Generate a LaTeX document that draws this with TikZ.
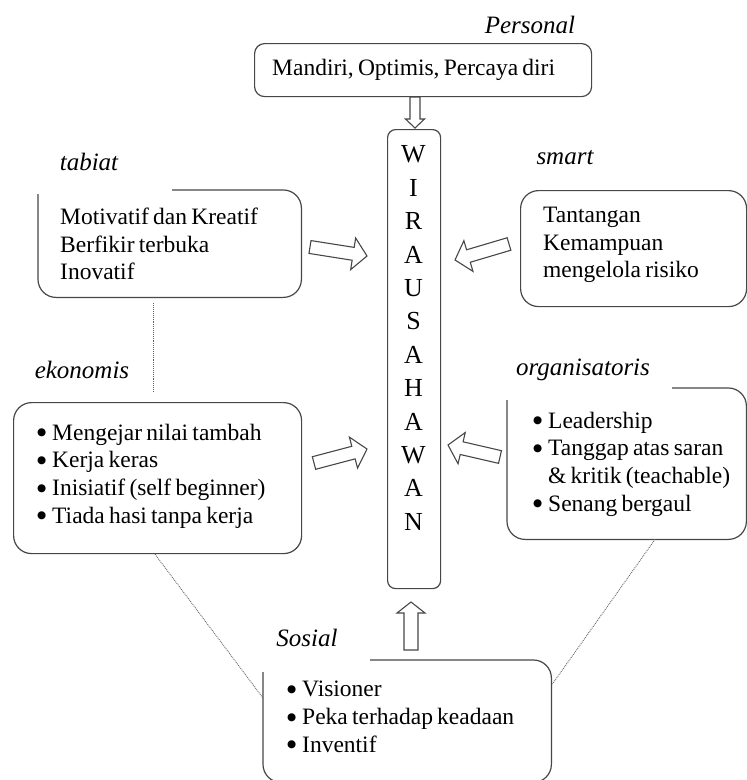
\documentclass[tikz,border=0pt]{standalone}
\usepackage{fontspec}
\setmainfont{Liberation Serif}
\newfontfamily\symfont{DejaVu Sans}
\usetikzlibrary{calc}
\newcommand{\bul}{\makebox[15pt][l]{\raisebox{4.5pt}{\fontsize{10.5}{10.5}\symfont ●}}}
\newcommand{\hollowarrow}[5]{%
  \path[blk] let \p1=(#1), \p2=(#2), \n1={atan2(\y2-\y1,\x2-\x1)}, \n2={veclen(\x2-\x1,\y2-\y1)} in
    [shift={(\p1)}, rotate=\n1] (0,-#3) -- ({\n2-#5},-#3) -- ({\n2-#5},-#4) -- (\n2,0)
    -- ({\n2-#5},#4) -- ({\n2-#5},#3) -- (0,#3) -- cycle;}
\newcommand{\bodyfont}{\fontsize{23.5}{27.7}\selectfont\spaceskip=0.18em plus 0.05em\relax}
\tikzset{
  bline/.style={draw=black!72, line width=1.2pt},
  area/.style={inner sep=0pt, anchor=north west},
  txt/.style={font=\bodyfont, align=left, inner sep=0pt, anchor=west},
  lbl/.style={font=\fontsize{25}{27.7}\selectfont\itshape, inner sep=0pt},
  dots/.style={draw=black!60, densely dotted, line width=0.9pt},
  blk/.style={draw=black!72, line width=1.1pt, fill=white},
}
\begin{document}
\begin{tikzpicture}[x=1pt, y=1pt]
\useasboundingbox (0,0) rectangle (747,-780);
% boxes
\node[area, bline, rounded corners=10pt, minimum width=337pt, minimum height=53pt] (top) at (254,-43) {};
\node[area, bline, rounded corners=8pt, minimum width=53pt, minimum height=459pt] (wira) at (387,-129) {};
\node[area, bline, rounded corners=18pt, minimum width=226pt, minimum height=116pt] (smart) at (520,-190) {};
\node[area, bline, rounded corners=18pt, minimum width=288pt, minimum height=151pt] (ekon) at (13,-402) {};
\node[area, minimum width=263pt, minimum height=107pt] (tab) at (38,-190) {};
\node[area, minimum width=239pt, minimum height=151pt] (org) at (507,-388) {};
\node[area, minimum width=288pt, minimum height=122pt] (sos) at (263,-660) {};
% open-cornered borders
\draw[bline, rounded corners=18pt] ($(tab.north west)+(134,0)$) -- (tab.north east) -- (tab.south east) -- (tab.south west) -- ($(tab.north west)+(0,-4)$);
\draw[bline, rounded corners=18pt] ($(org.north west)+(165,0)$) -- (org.north east) -- (org.south east) -- (org.south west) -- ($(org.north west)+(0,-12)$);
\draw[bline, rounded corners=18pt] ($(sos.north west)+(107,0)$) -- (sos.north east) -- (sos.south east) -- (sos.south west) -- ($(sos.north west)+(0,-12)$);
% texts
\node[txt] (toptext) at (272,-70) {Mandiri, Optimis, Percaya diri};
\node[txt, font=\fontsize{26}{33.4}\selectfont, align=center, anchor=center] (wiratext) at (413.5,-338)
  {W\\I\\R\\A\\U\\S\\A\\H\\A\\W\\A\\N};
\node[txt] (tabtext) at (60,-244) {Motivatif dan Kreatif\\Berfikir terbuka\\Inovatif};
\node[txt] (smarttext) at (543,-245) {Tantangan\\Kemampuan\\mengelola risiko};
\node[txt] (ekontext) at (37,-476) {\bul Mengejar nilai tambah\\\bul Kerja keras\\\bul Inisiatif (self beginner)\\\bul Tiada hasi tanpa kerja};
\node[txt] (orgtext) at (533,-464) {\bul Leadership\\\bul Tanggap atas saran\\\hspace*{15pt}\& kritik (teachable)\\\bul Senang bergaul};
\node[txt] (sostext) at (287,-717) {\bul Visioner\\\bul Peka terhadap keadaan\\\bul Inventif};
% labels
\node[lbl] (lpers) at (530,-25) {Personal};
\node[lbl] (ltab) at (89,-162) {tabiat};
\node[lbl] (lsmart) at (565,-158) {smart};
\node[lbl] (lekon) at (82,-370) {ekonomis};
\node[lbl] (lorg) at (583,-370) {organisatoris};
\node[lbl] (lsos) at (307,-638) {Sosial};
% dotted links
\coordinate (d1a) at ($(tab.south west)+(115,-6)$);
\coordinate (d1b) at (153,-392);
\draw[dots] (d1a) -- (d1a |- d1b);
\draw[dots] ($(ekon.south west)+(142,0)$) -- ($(sos.north west)+(0,-38)$);
\draw[dots] ($(org.south west)+(148,0)$) -- ($(sos.north east)+(1,-24)$);
% block arrows
\coordinate (a1t) at (415,-97);  \coordinate (a1h) at (415,-128);
\coordinate (a2t) at (310,-247); \coordinate (a2h) at (367,-256);
\coordinate (a3t) at (509,-244); \coordinate (a3h) at (455,-260);
\coordinate (a4t) at (314,-463); \coordinate (a4h) at (367,-449);
\coordinate (a5t) at (500,-457); \coordinate (a5h) at (448,-445);
\coordinate (a6t) at (411,-650); \coordinate (a6h) at (411,-602);
\hollowarrow{a1t}{a1h}{5}{9.5}{9}
\hollowarrow{a2t}{a2h}{6.5}{16}{14}
\hollowarrow{a3t}{a3h}{6.5}{16}{14}
\hollowarrow{a4t}{a4h}{6.5}{16}{14}
\hollowarrow{a5t}{a5h}{6.5}{16}{14}
\hollowarrow{a6t}{a6h}{7}{14}{11}
\end{tikzpicture}
\end{document}
